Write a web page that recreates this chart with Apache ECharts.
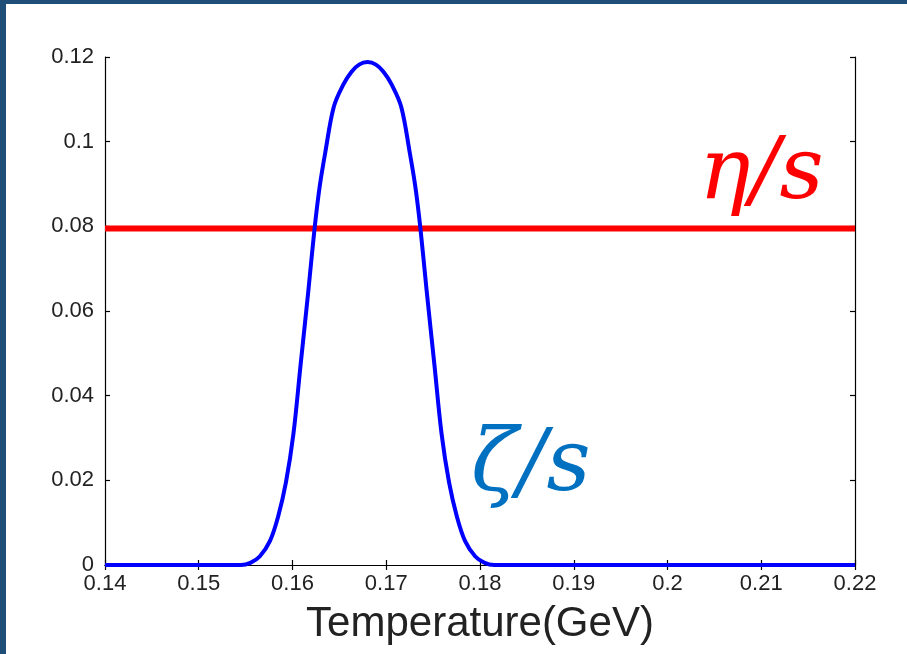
<!DOCTYPE html>
<html>
<head>
<meta charset="utf-8">
<script src="https://cdn.jsdelivr.net/npm/echarts@6/dist/echarts.min.js"></script>
<style>
html,body{margin:0;padding:0;background:#fff;}
#chart{width:907px;height:654px;}
</style>
</head>
<body>
<div id="chart"></div>
<script>
// Data
const temperature = [0.14, 0.1545, 0.1555, 0.1565, 0.1576, 0.15845, 0.1593, 0.1601, 0.16085, 0.1617, 0.16235, 0.1629, 0.1635, 0.1644, 0.1654, 0.1663, 0.1671, 0.168, 0.1689, 0.1697, 0.1706, 0.1716, 0.1725, 0.1731, 0.17365, 0.1743, 0.17515, 0.1759, 0.1767, 0.17755, 0.1784, 0.1795, 0.1805, 0.1815, 0.22];
const zetaOverS = [0, 0, 0.0005, 0.002, 0.0057, 0.0113, 0.0195, 0.031, 0.047, 0.065, 0.0794, 0.0894, 0.0975, 0.1082, 0.1134, 0.1165, 0.1182, 0.1188, 0.1182, 0.1165, 0.1134, 0.1082, 0.0975, 0.0894, 0.0794, 0.065, 0.047, 0.031, 0.0195, 0.0113, 0.0057, 0.002, 0.0005, 0, 0];
const etaTemps = [0.14, 0.22];
const etaOverS = [0.0795, 0.0795];
const xTicks = [0.14, 0.15, 0.16, 0.17, 0.18, 0.19, 0.2, 0.21, 0.22];
const yTicks = [0, 0.02, 0.04, 0.06, 0.08, 0.1, 0.12];
const xTitle = 'Temperature(GeV)';
const etaLabel = 'η/s';
const zetaLabel = 'ζ/s';

const chart = echarts.init(document.getElementById('chart'), null, {renderer: 'canvas'});
const fmt = v => String(parseFloat(v.toFixed(3)));
const axisLine = {show: true, lineStyle: {color: '#000', width: 1.2}};
const tickStyle = {show: true, inside: true, length: 5, lineStyle: {color: '#000', width: 1.2}};
const labelFont = {fontFamily: 'Liberation Sans, Arial, sans-serif', fontSize: 22, color: '#222'};

chart.setOption({
  backgroundColor: '#fff',
  animation: false,
  grid: {left: 105, right: 52, top: 57, bottom: 89, containLabel: false},
  xAxis: [{
    type: 'value', min: xTicks[0], max: xTicks[xTicks.length - 1], interval: 0.01,
    axisLine: axisLine, axisTick: tickStyle, splitLine: {show: false},
    axisLabel: Object.assign({margin: 8, formatter: fmt}, labelFont),
    name: xTitle, nameLocation: 'middle', nameGap: 38,
    nameTextStyle: {fontFamily: 'Liberation Sans, Arial, sans-serif', fontSize: 42, color: '#222'}
  }, {
    type: 'value', position: 'top', min: xTicks[0], max: xTicks[xTicks.length - 1], interval: 0.01,
    axisLine: axisLine, axisTick: tickStyle, splitLine: {show: false}, axisLabel: {show: false}
  }],
  yAxis: [{
    type: 'value', min: yTicks[0], max: yTicks[yTicks.length - 1], interval: 0.02,
    axisLine: axisLine, axisTick: tickStyle, splitLine: {show: false},
    axisLabel: Object.assign({margin: 11, formatter: fmt}, labelFont)
  }, {
    type: 'value', position: 'right', min: yTicks[0], max: yTicks[yTicks.length - 1], interval: 0.02,
    axisLine: axisLine, axisTick: tickStyle, splitLine: {show: false}, axisLabel: {show: false}
  }],
  series: [{
    type: 'line', name: etaLabel, xAxisIndex: 0, yAxisIndex: 0,
    data: etaTemps.map((t, i) => [t, etaOverS[i]]),
    showSymbol: false, lineStyle: {color: '#ff0000', width: 6}, z: 2
  }, {
    type: 'line', name: zetaLabel, xAxisIndex: 0, yAxisIndex: 0,
    data: temperature.map((t, i) => [t, zetaOverS[i]]),
    showSymbol: false, smooth: 0.35,
    lineStyle: {color: '#0000ff', width: 4}, z: 3
  }],
  graphic: [
    {type: 'rect', left: 0, top: 0, shape: {width: 907, height: 4}, style: {fill: '#1f4e79'}, z: 100},
    {type: 'rect', left: 0, top: 0, shape: {width: 6, height: 654}, style: {fill: '#1f4e79'}, z: 100},
    {type: 'text', x: 699, y: 176, z: 50, style: {text: etaLabel, fill: '#ff0000', font: 'italic 86px "DejaVu Serif"', verticalAlign: 'middle', align: 'left'}},
    {type: 'text', x: 471, y: 468, z: 50, style: {text: zetaLabel, fill: '#0070c0', font: 'italic 86px "DejaVu Serif"', verticalAlign: 'middle', align: 'left'}}
  ]
});
</script>
</body>
</html>
